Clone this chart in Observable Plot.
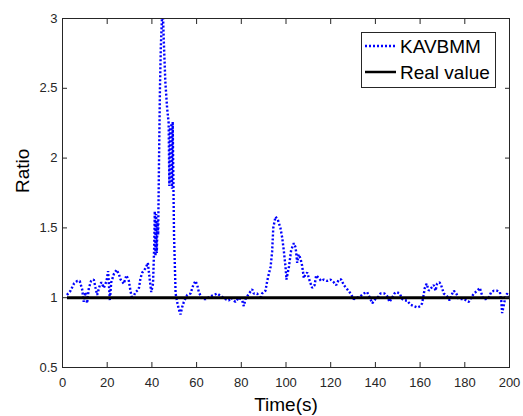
<!DOCTYPE html>
<html><head><meta charset="utf-8">
<script src="https://cdn.jsdelivr.net/npm/d3@7"></script>
<script src="https://cdn.jsdelivr.net/npm/@observablehq/plot@0.6"></script>
<style>
body{margin:0;background:#fff;font-family:"Liberation Sans",Arial,sans-serif;}
#wrap{position:relative;width:523px;height:416px;}
#legend{position:absolute;left:0;top:0;}
</style></head><body><div id="wrap"></div>
<script>
const times = [2,3.6,5.1,6.6,7.7,8.8,9.5,10.3,11,11.8,12.8,14,14.8,15.5,16.7,17.4,18.5,19.7,20.4,21.2,21.8,23,24.2,25.2,26,27.4,28.6,29.7,30.4,31.2,32.7,34.1,34.9,35.7,37.1,38.2,39.1,39.7,40.5,41.0,41.3,41.6,41.9,42.2,42.5,42.8,43.2,43.6,44.0,44.5,44.9,45.3,46.0,46.8,47.5,47.8,48.1,48.4,48.7,49.0,49.3,49.6,49.9,50.6,51.3,52.0,52.8,53.5,54.3,55.8,57.3,58.5,59.5,60.3,61,62.5,64,66.2,67.7,69.2,71,72.9,74.4,75.5,76.6,77.4,78.9,80.4,81.1,81.9,83.4,84.9,85.6,87.1,88.6,89.3,90.8,91.6,92.3,93.1,93.8,94.3,95.3,96.3,97.5,98.3,99,99.8,100.2,101.3,102.3,103.5,104.3,105,105.7,106.5,107.2,108,108.7,109.5,110.6,111.7,112.8,113.5,114.7,115.7,116.9,118.4,119.9,121.4,122.5,123.6,124.7,125.9,127.4,128.9,130.3,131.9,133.3,134.8,136.3,137.5,138.6,140,141.5,142.3,144.1,145.3,146.3,147.5,148.5,149.4,150.9,152,153,154.2,155.7,157.2,158.7,160.2,160.9,161.7,162.1,162.9,163.9,165,166.1,166.9,167.6,168.7,169.4,170.6,172.1,173.2,174.4,175.1,176.2,177.3,178.4,179.6,180.8,181.8,182.9,184,185.6,186.7,187.3,188.2,189.3,190.7,191.8,193,194.5,195.7,196.3,196.7,197.5,198.2,199,199.7];
const kavbmm = [1.02,1.05,1.10,1.12,1.12,1.06,0.97,1.04,0.96,1.07,1.12,1.13,1.07,1.02,1.09,1.11,1.07,1.12,1.19,0.98,1.11,1.17,1.20,1.17,1.13,1.10,1.16,1.12,1.05,0.99,1.04,1.06,1.14,1.18,1.21,1.25,1.12,1.04,1.10,1.35,1.62,1.30,1.60,1.32,1.55,1.45,2.0,2.5,2.8,3.0,3.05,2.85,2.55,2.36,2.25,1.80,2.22,1.82,2.25,1.78,2.26,1.85,1.45,1.03,0.97,0.92,0.88,0.93,0.97,1.02,1.03,1.09,1.12,1.09,1.04,0.99,0.99,1.01,1.02,1.03,1.01,0.99,0.98,1.00,0.98,0.97,1.00,0.98,0.94,0.99,1.03,1.06,1.03,1.03,0.99,1.03,1.05,1.12,1.17,1.22,1.33,1.50,1.58,1.56,1.50,1.43,1.34,1.22,1.13,1.22,1.34,1.39,1.36,1.25,1.31,1.28,1.23,1.14,1.17,1.18,1.12,1.07,1.09,1.16,1.14,1.12,1.13,1.12,1.13,1.11,1.09,1.13,1.13,1.09,1.06,1.03,0.99,1.00,1.01,1.03,1.04,1.00,0.96,0.99,1.01,1.03,1.03,1.01,0.97,1.00,1.03,1.04,1.03,0.99,0.98,0.98,0.95,0.94,0.93,0.94,0.96,1.03,1.07,1.10,1.05,1.07,1.09,1.05,1.10,1.11,1.09,1.03,1.01,0.98,1.03,1.05,1.03,0.99,0.99,0.99,0.98,0.97,1.00,1.03,1.05,1.07,1.04,0.99,0.99,1.00,1.04,1.05,1.05,1.04,0.98,0.89,0.95,1.01,1.03,1.01];
const realTimes = [2, 200];
const realValues = [1, 1];
const xTicks = [0,20,40,60,80,100,120,140,160,180,200];
const yTicks = [0.5,1,1.5,2,2.5,3];
const seriesNames = ["KAVBMM", "Real value"];
const xLabel = "Time(s)";
const yLabel = "Ratio";

const kData = times.map((t,i)=>({t, v: kavbmm[i]}));
const rData = realTimes.map((t,i)=>({t, v: realValues[i]}));
const axisColor = "#262626";
const fmt = d => String(d);

const chart = Plot.plot({
  width: 523, height: 416,
  marginLeft: 62, marginRight: 14, marginTop: 18, marginBottom: 49,
  x: {domain: [0, 200]},
  y: {domain: [0.5, 3]},
  style: {fontFamily: "Liberation Sans, Arial, sans-serif", fontSize: "13px", color: axisColor, background: "#fff"},
  marks: [
    Plot.line(kData, {x: "t", y: "v", stroke: "#0000ff", strokeWidth: 2.4, strokeDasharray: "2,2", strokeLinecap: "butt", strokeLinejoin: "miter", clip: true}),
    Plot.line(rData, {x: "t", y: "v", stroke: "#000", strokeWidth: 3, strokeLinecap: "butt"}),
    Plot.frame({stroke: axisColor, strokeWidth: 1}),
    Plot.axisX({anchor: "bottom", ticks: xTicks, tickFormat: fmt, tickSize: -5, tickPadding: 15, fontSize: 13, label: null, stroke: axisColor, fill: axisColor}),
    Plot.axisX({anchor: "top", ticks: xTicks, tickSize: -5, tickFormat: () => "", label: null, stroke: axisColor}),
    Plot.axisY({anchor: "left", ticks: yTicks, tickFormat: fmt, tickSize: -5, tickPadding: 10, fontSize: 13, label: null, stroke: axisColor, fill: axisColor}),
    Plot.axisY({anchor: "right", ticks: yTicks, tickSize: -5, tickFormat: () => "", label: null, stroke: axisColor}),
    Plot.text([xLabel], {frameAnchor: "bottom", dy: 43, lineAnchor: "bottom", fontSize: 19, fill: "#000"}),
    Plot.text([yLabel], {frameAnchor: "left", dx: -40, rotate: -90, fontSize: 19, fill: "#000"})
  ]
});
const wrap = document.getElementById("wrap");
wrap.appendChild(chart);

// legend overlay
const lg = d3.select(wrap).append("svg").attr("id", "legend")
  .attr("width", 523).attr("height", 416)
  .style("font-family", "Liberation Sans, Arial, sans-serif");
lg.append("rect").attr("x", 361.5).attr("y", 32.5).attr("width", 134).attr("height", 55)
  .attr("fill", "#fff").attr("stroke", axisColor).attr("stroke-width", 1);
const rows = [
  {name: seriesNames[0], stroke: "#0000ff", w: 2.4, dash: "2,2", y: 46},
  {name: seriesNames[1], stroke: "#000", w: 2.5, dash: null, y: 72}
];
rows.forEach(r => {
  lg.append("line").attr("x1", 365).attr("x2", 396).attr("y1", r.y).attr("y2", r.y)
    .attr("stroke", r.stroke).attr("stroke-width", r.w).attr("stroke-dasharray", r.dash);
  lg.append("text").attr("x", 400).attr("y", r.y).attr("dy", "0.35em")
    .attr("font-size", 19).attr("fill", "#000").text(r.name);
});
</script>
</body></html>
